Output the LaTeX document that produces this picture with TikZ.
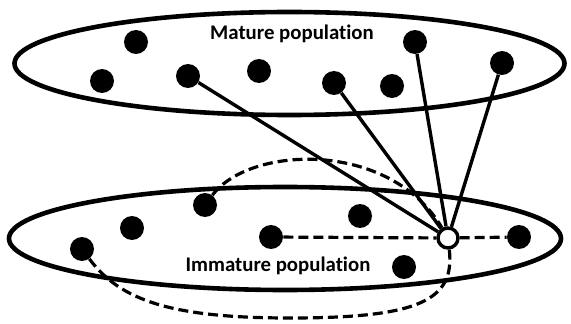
\documentclass[tikz,border=0pt]{standalone}
\usepackage{fontspec}
\setmainfont{Carlito}[Ligatures=NoCommon]
\begin{document}
\begin{tikzpicture}[x=0.25mm,y=-0.25mm,
    dot/.style={circle,fill=black,inner sep=0pt,minimum size=6mm},
    hub/.style={circle,draw=black,fill=white,line width=0.85mm,inner sep=0pt,minimum size=5mm},
    link/.style={line width=0.85mm},
    dlink/.style={line width=0.8mm,dash pattern=on 2.5mm off 1.25mm},
    popset/.style={line width=1.15mm},
    poplabel/.style={font=\bfseries\fontsize{14.8}{17}\selectfont,inner sep=0pt,anchor=base}]
    \useasboundingbox (0,0) rectangle (571,324);
    \draw[popset] (289.5,63.5) ellipse [x radius=275, y radius=51.5];
    \draw[popset] (285,238.5) ellipse [x radius=276, y radius=51.5];
    \node[poplabel] (maturetxt) at (292,40) {Mature population};
    \node[poplabel] (immaturetxt) at (278,271.5) {Immature population};
    \node[dot] (m1) at (136,42) {};
    \node[dot] (m2) at (102,81) {};
    \node[dot] (m3) at (188,76) {};
    \node[dot] (m4) at (259,71) {};
    \node[dot] (m5) at (334,83) {};
    \node[dot] (m6) at (392,86) {};
    \node[dot] (m7) at (415,42) {};
    \node[dot] (m8) at (502,63) {};
    \node[dot] (i1) at (82,249) {};
    \node[dot] (i2) at (132,228) {};
    \node[dot] (i3) at (205,205) {};
    \node[dot] (i4) at (271,237) {};
    \node[dot] (i5) at (360,216) {};
    \node[dot] (i6) at (404,267) {};
    \node[dot] (i7) at (519,237) {};
    \node[hub] (w) at (448,238) {};
    \draw[link] (w) -- (m3);
    \draw[link] (w) -- (m5);
    \draw[link] (w) -- (m7);
    \draw[link] (w) -- (m8);
    \draw[dlink] (i4) -- (w);
    \draw[dlink] (w) -- (i7);
    \draw[dlink] (i3) .. controls (250,145) and (390,140) .. (w);
    \draw[dlink] (i1) .. controls (120,300) and (170,318) .. (290,318)
        .. controls (420,318) and (455,300) .. (w);
\end{tikzpicture}
\end{document}
